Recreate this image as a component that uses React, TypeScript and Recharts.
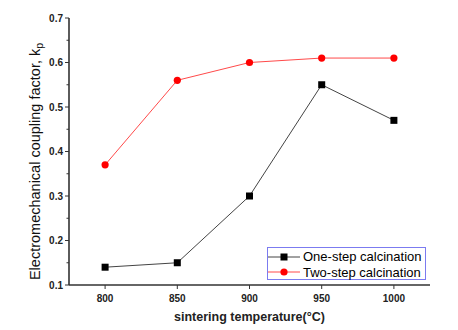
import React from 'react';
import {
  LineChart,
  Line,
  XAxis,
  YAxis,
  Legend,
} from 'recharts';

const temperatures = [800, 850, 900, 950, 1000];
const oneStep = [0.14, 0.15, 0.30, 0.55, 0.47];
const twoStep = [0.37, 0.56, 0.60, 0.61, 0.61];
const xTicks = [800, 850, 900, 950, 1000];
const yTicks = [0.1, 0.15, 0.2, 0.25, 0.3, 0.35, 0.4, 0.45, 0.5, 0.55, 0.6, 0.65, 0.7];
const seriesNames = ['One-step calcination', 'Two-step calcination'];

const FONT = '"Liberation Sans", Arial, sans-serif';
const AXIS = '#333';

const data = temperatures.map((t, i) => ({ t, one: oneStep[i], two: twoStep[i] }));

function YTick(props: any) {
  const { x, y, payload } = props;
  const v = payload.value as number;
  const major = Math.abs(v * 10 - Math.round(v * 10)) < 1e-6;
  const ax = x + 6;
  return (
    <g>
      <line x1={ax} x2={ax - (major ? 4 : 2.5)} y1={y} y2={y} stroke={AXIS} strokeWidth={1} />
      {major && (
        <text x={x} y={y} dy={3.5} textAnchor="end" fontFamily={FONT} fontWeight="bold" fontSize={10} fill="#222">
          {v.toFixed(1)}
        </text>
      )}
    </g>
  );
}

function XTick(props: any) {
  const { x, y, payload } = props;
  const ay = y - 9;
  return (
    <g>
      <line x1={x} x2={x} y1={ay} y2={ay + 4} stroke={AXIS} strokeWidth={1} />
      <text x={x} y={y} dy={8} textAnchor="middle" fontFamily={FONT} fontWeight="bold" fontSize={10} fill="#222">
        {payload.value}
      </text>
    </g>
  );
}

function SquareDot(props: any) {
  const { cx, cy, index } = props;
  return <rect key={'s' + index} x={cx - 3.5} y={cy - 3.5} width={7} height={7} fill="#000" />;
}

function CircleDot(props: any) {
  const { cx, cy, index } = props;
  return <circle key={'c' + index} cx={cx} cy={cy} r={3.6} fill="#ff0000" />;
}

function LegendBox() {
  const rows = [
    { name: seriesNames[0], color: '#444', marker: 'square' },
    { name: seriesNames[1], color: '#ff4a4a', marker: 'circle' },
  ];
  return (
    <div
      style={{
        border: '1px solid #7b7bf0',
        background: '#fff',
        width: 157,
        height: 30,
        boxSizing: 'content-box',
        fontFamily: FONT,
        fontSize: 13,
        color: '#000',
        paddingTop: 1,
      }}
    >
      {rows.map((r) => (
        <div key={r.name} style={{ display: 'flex', alignItems: 'center', height: 15.5 }}>
          <svg width={35} height={12} style={{ marginLeft: 0 }}>
            <line x1={0} x2={32} y1={6} y2={6} stroke={r.color} strokeWidth={1} />
            {r.marker === 'square' ? (
              <rect x={12.5} y={2.5} width={7} height={7} fill="#000" />
            ) : (
              <circle cx={16} cy={6} r={3.6} fill="#ff0000" />
            )}
          </svg>
          <span>{r.name}</span>
        </div>
      ))}
    </div>
  );
}

export default function App() {
  return (
    <div style={{ position: 'absolute', left: 0, top: 0, width: 458, height: 330, background: '#fff' }}>
      <LineChart width={458} height={330} data={data} margin={{ top: 18, right: 28, left: 0, bottom: 0 }}>
        <XAxis
          dataKey="t"
          type="number"
          domain={[775, 1025]}
          ticks={xTicks}
          tick={<XTick />}
          tickLine={false}
          tickSize={4}
          tickMargin={5}
          height={45}
          axisLine={{ stroke: AXIS, strokeWidth: 1.6 }}
          label={{
            value: 'sintering temperature(°C)',
            position: 'insideBottom',
            offset: 9,
            style: { fontFamily: FONT, fontWeight: 'bold', fontSize: 12.5, fill: '#222' },
          }}
        />
        <XAxis
          xAxisId="top"
          orientation="top"
          dataKey="t"
          type="number"
          domain={[775, 1025]}
          height={0}
          tick={false}
          tickLine={false}
          axisLine={{ stroke: AXIS, strokeWidth: 1.6 }}
        />
        <YAxis
          type="number"
          domain={[0.1, 0.7]}
          ticks={yTicks}
          interval={0}
          tick={<YTick />}
          tickLine={false}
          tickSize={3}
          tickMargin={3}
          width={69}
          axisLine={{ stroke: AXIS, strokeWidth: 1.6 }}
          label={(p: any) => {
            const vb = p.viewBox;
            const cx = 40;
            const cy = vb.y + vb.height / 2 + 10;
            return (
              <text
                transform={`translate(${cx},${cy}) rotate(-90)`}
                textAnchor="middle"
                fontFamily={FONT}
                fontSize={14.5}
                fill="#111"
              >
                Electromechanical coupling factor, k
                <tspan fontSize={10.5} dy={3}>p</tspan>
              </text>
            );
          }}
        />
        <YAxis
          yAxisId="right"
          orientation="right"
          domain={[0.1, 0.7]}
          width={0}
          tick={false}
          tickLine={false}
          axisLine={{ stroke: AXIS, strokeWidth: 1.6 }}
        />
        <Legend
          layout="horizontal"
          verticalAlign="middle"
          align="center"
          content={<LegendBox />}
          wrapperStyle={{ position: 'absolute', left: 267, top: 247, width: 'auto', height: 'auto' }}
        />
        <Line
          dataKey="one"
          name={seriesNames[0]}
          stroke="#444"
          strokeWidth={1}
          dot={<SquareDot />}
          activeDot={false}
          isAnimationActive={false}
        />
        <Line
          dataKey="two"
          name={seriesNames[1]}
          stroke="#ff4a4a"
          strokeWidth={1}
          dot={<CircleDot />}
          activeDot={false}
          isAnimationActive={false}
        />
      </LineChart>
    </div>
  );
}
